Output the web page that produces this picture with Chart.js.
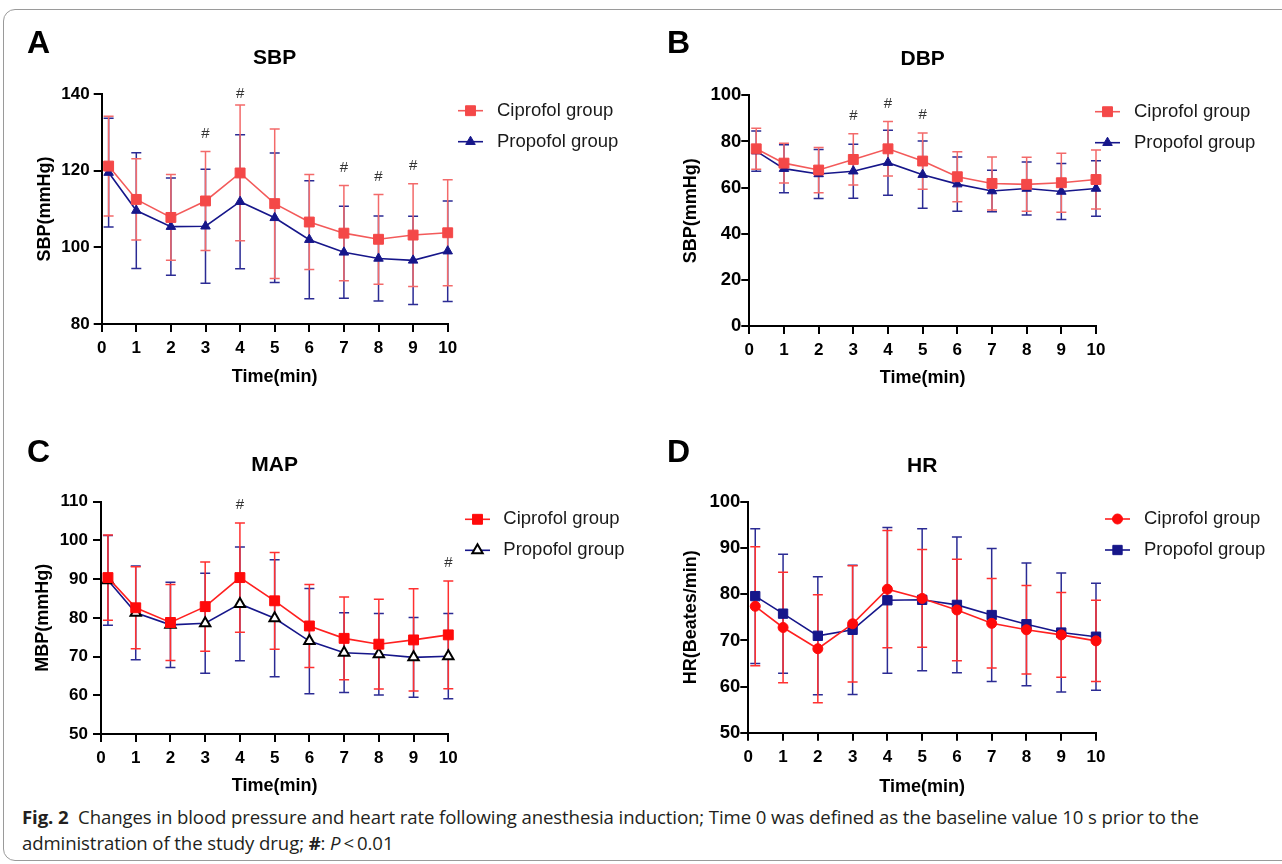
<!DOCTYPE html>
<html>
<head>
<meta charset="utf-8">
<title>Fig. 2 – Blood pressure and heart rate</title>
<script src="https://cdn.jsdelivr.net/npm/chart.js@4.4.1/dist/chart.umd.min.js"></script>
<style>
  body { margin: 0; background: #fff; width: 1282px; height: 864px; overflow: hidden; position: relative;
         font-family: "Liberation Sans", Arial, sans-serif; }
  .frame { position: absolute; left: 3px; top: 9px; width: 1300px; height: 850px;
           border: 1px solid #9a9a9a; border-radius: 12px; }
  canvas { position: absolute; }
  .caption { position: absolute; left: 22px; top: 804px; font-family: "Open Sans", sans-serif; font-size: 18.6px;
             line-height: 26px; color: #231f20; white-space: nowrap; letter-spacing: -0.1px; }
</style>
</head>
<body>
<div class="frame"></div>
<canvas id="chartA" width="640" height="390" style="left:10px;top:15px"></canvas>
<canvas id="chartB" width="627" height="390" style="left:655px;top:15px"></canvas>
<canvas id="chartC" width="640" height="375" style="left:10px;top:425px"></canvas>
<canvas id="chartD" width="627" height="375" style="left:655px;top:425px"></canvas>
<div class="caption"><b>Fig. 2</b>&nbsp; Changes in blood pressure and heart rate following anesthesia induction; Time 0 was defined as the baseline value 10 s prior to the<br>administration of the study drug; <b>#</b>: <i>P</i>&thinsp;&lt;&thinsp;0.01</div>

<script>
// ---- Data (mean and SD) ----
// baseline (time 0) is plotted just right of the y axis, as in the original
const timePoints = [0.2, 1, 2, 3, 4, 5, 6, 7, 8, 9, 10];
const timeTicks = [0, 1, 2, 3, 4, 5, 6, 7, 8, 9, 10];
const groupNames = ["Ciprofol group", "Propofol group"];

// A - SBP
const sbpTicks = [80, 100, 120, 140];
const sbpCiprofolMean = [121.2, 112.5, 107.8, 112.1, 119.4, 111.4, 106.6, 103.7, 102.1, 103.2, 103.8];
const sbpCiprofolSD   = [13.0, 10.6, 11.2, 12.9, 17.7, 19.5, 12.4, 12.4, 11.7, 13.4, 13.8];
const sbpPropofolMean = [119.5, 109.6, 105.4, 105.5, 111.9, 107.7, 102.0, 98.7, 97.1, 96.6, 99.0];
const sbpPropofolSD   = [14.2, 15.1, 12.7, 14.9, 17.5, 16.9, 15.4, 12.0, 11.1, 11.5, 13.1];
const sbpSignificant  = [3, 4, 7, 8, 9];

// B - DBP
const dbpTicks = [0, 20, 40, 60, 80, 100];
const dbpCiprofolMean = [76.8, 70.6, 67.6, 72.2, 76.8, 71.5, 64.7, 61.8, 61.4, 62.1, 63.5];
const dbpCiprofolSD   = [8.9, 8.6, 9.8, 11.1, 11.8, 12.2, 10.8, 11.5, 11.7, 12.8, 12.8];
const dbpPropofolMean = [75.8, 68.2, 65.9, 67.1, 70.8, 65.6, 61.5, 58.5, 59.6, 58.3, 59.6];
const dbpPropofolSD   = [8.7, 10.4, 10.6, 11.7, 14.1, 14.6, 11.8, 9.0, 11.5, 12.1, 12.0];
const dbpSignificant  = [3, 4, 5];

// C - MAP
const mapTicks = [50, 60, 70, 80, 90, 100, 110];
const mapCiprofolMean = [90.4, 82.6, 78.8, 82.9, 90.4, 84.4, 77.9, 74.7, 73.2, 74.3, 75.6];
const mapCiprofolSD   = [11.0, 10.6, 9.8, 11.5, 14.1, 12.5, 10.7, 10.7, 11.6, 13.2, 13.9];
const mapPropofolMean = [89.7, 81.3, 78.2, 78.6, 83.6, 79.9, 74.0, 71.0, 70.6, 69.8, 70.1];
const mapPropofolSD   = [11.6, 12.1, 11.0, 12.9, 14.7, 15.1, 13.6, 10.3, 10.5, 10.3, 11.0];
const mapSignificant  = [4, 10];

// D - HR
const hrTicks = [50, 60, 70, 80, 90, 100];
const hrCiprofolMean = [77.4, 72.8, 68.2, 73.6, 81.1, 79.1, 76.6, 73.7, 72.3, 71.2, 69.9];
const hrCiprofolSD   = [12.9, 12.0, 11.7, 12.6, 12.7, 10.6, 11.0, 9.7, 9.6, 9.2, 8.8];
const hrPropofolMean = [79.6, 75.8, 71.0, 72.3, 78.7, 78.8, 77.7, 75.5, 73.5, 71.7, 70.8];
const hrPropofolSD   = [14.6, 12.9, 12.8, 14.0, 15.8, 15.4, 14.7, 14.4, 13.3, 12.9, 11.6];
const hrSignificant  = [];

// ---- Styles ----
const FONT = "'Liberation Sans', Arial, sans-serif";
const NAVY = "#16168a";
const NAVY_BAR = "#2b2b94";

const ciprofolSoft = { color: "#f44848", line: "#f35a5a", bar: "#f36a6a", pointStyle: "rect", radius: 7, fill: "#f44848" };
const ciprofolRed  = { color: "#ff0a0a", line: "#ff2020", bar: "#ff3030", pointStyle: "rect", radius: 7, fill: "#ff0a0a" };
const ciprofolDot  = { color: "#ff0a0a", line: "#ff2020", bar: "#ff3030", pointStyle: "circle", radius: 5, fill: "#ff0a0a" };
const propofolTri  = { color: NAVY, line: NAVY, bar: NAVY_BAR, pointStyle: "triangle", radius: 5.5, fill: NAVY };
const propofolOpen = { color: "#000", line: NAVY, bar: NAVY_BAR, pointStyle: "triangle", radius: 6, fill: "#fff", border: 2 };
const propofolSq   = { color: NAVY, line: NAVY, bar: NAVY_BAR, pointStyle: "rect", radius: 6.6, fill: NAVY };

// ---- Helpers ----
function makeDataset(label, means, sds, st) {
    return {
        label: label,
        data: timePoints.map((t, i) => ({ x: t, y: means[i] })),
        sd: sds,
        errorColor: st.bar,
        borderColor: st.line,
        backgroundColor: st.fill,
        borderWidth: 1.6,
        tension: 0,
        clip: false,
        pointStyle: st.pointStyle,
        pointRadius: st.radius,
        pointHoverRadius: st.radius,
        pointBackgroundColor: st.fill,
        pointBorderColor: st.color,
        pointBorderWidth: st.border || 1
    };
}

// error bars, letter, title, legend and "#" marks
function decorations(p) {
    return {
        id: "deco" + p.letter,
        beforeDatasetsDraw(chart) {
            const { ctx, scales: { x, y } } = chart;
            ctx.save();
            ctx.lineWidth = 1.5;
            for (let d = chart.data.datasets.length - 1; d >= 0; d--) {
                const ds = chart.data.datasets[d];
                ctx.strokeStyle = ds.errorColor;
                ds.data.forEach((pt, i) => {
                    const px = x.getPixelForValue(pt.x);
                    const hi = y.getPixelForValue(pt.y + ds.sd[i]);
                    const lo = y.getPixelForValue(pt.y - ds.sd[i]);
                    ctx.beginPath();
                    ctx.moveTo(px, hi); ctx.lineTo(px, lo);
                    ctx.moveTo(px - 5, hi); ctx.lineTo(px + 5, hi);
                    ctx.moveTo(px - 5, lo); ctx.lineTo(px + 5, lo);
                    ctx.stroke();
                });
            }
            ctx.restore();
        },
        afterDraw(chart) {
            const { ctx, chartArea, scales: { x, y } } = chart;
            const ox = p.box.left, oy = p.box.top;
            ctx.save();
            ctx.fillStyle = "#000";

            // panel letter
            ctx.font = "bold 32px " + FONT;
            ctx.textAlign = "left";
            ctx.textBaseline = "alphabetic";
            ctx.fillText(p.letter, p.letterPos[0] - ox, p.letterPos[1] - oy);

            // title, centred over the plot
            ctx.font = "bold 21px " + FONT;
            ctx.textAlign = "center";
            ctx.textBaseline = "middle";
            ctx.fillText(p.title, (chartArea.left + chartArea.right) / 2, p.titleY - oy);

            // significance marks
            ctx.font = "15px " + FONT;
            ctx.fillStyle = "#333";
            p.sig.forEach(t => {
                const i = timeTicks.indexOf(t);
                let top = Infinity;
                chart.data.datasets.forEach(ds => {
                    top = Math.min(top, y.getPixelForValue(ds.data[i].y + ds.sd[i]));
                });
                const py = Math.max(top - 18, chartArea.top);
                ctx.fillText("#", x.getPixelForValue(timePoints[i]), py);
            });

            // legend: short line with the marker in the middle
            ctx.font = "18.5px " + FONT;
            ctx.textAlign = "left";
            chart.data.datasets.forEach((ds, i) => {
                const ly = p.legend.y - oy + i * 31;
                const lx = p.legend.x - ox;
                ctx.strokeStyle = ds.borderColor;
                ctx.lineWidth = 1.6;
                ctx.beginPath();
                ctx.moveTo(lx, ly); ctx.lineTo(lx + 25, ly);
                ctx.stroke();
                ctx.fillStyle = ds.pointBackgroundColor;
                ctx.strokeStyle = ds.pointBorderColor;
                ctx.lineWidth = ds.pointBorderWidth;
                Chart.helpers.drawPoint(ctx, {
                    pointStyle: ds.pointStyle, radius: ds.pointRadius,
                    borderWidth: ds.pointBorderWidth, rotation: 0
                }, lx + 12.5, ly);
                ctx.fillStyle = "#1a1a1a";
                ctx.fillText(ds.label, p.legend.tx - ox, ly);
            });
            ctx.restore();
        }
    };
}

function makePanel(p) {
    const b = p.box, g = p.geo;
    const TITLE_HALF = 18 * 1.2 / 2;
    const padLeft = g.yTitleX - TITLE_HALF - b.left;
    const yWidth = g.left - b.left - padLeft;
    const padTop = g.top - b.top;
    const padRight = b.left + b.width - g.right;
    const xHeight = g.xTitleY + TITLE_HALF - g.bottom;
    const padBottom = b.top + b.height - g.xTitleY - TITLE_HALF;

    const tickFont = { family: FONT, size: 17, weight: "bold" };
    const titleFont = { family: FONT, size: 18, weight: "bold", lineHeight: 1.2 };
    const axisGrid = { display: true, drawOnChartArea: false, drawTicks: true, tickLength: 8, color: "#000", lineWidth: 2 };

    new Chart(document.getElementById(p.canvas), {
        type: "line",
        data: { datasets: p.datasets },
        options: {
            responsive: false,
            animation: false,
            events: [],
            layout: { padding: { left: padLeft, top: padTop, right: padRight, bottom: padBottom } },
            plugins: { legend: { display: false }, title: { display: false }, tooltip: { enabled: false } },
            scales: {
                x: {
                    type: "linear",
                    min: timeTicks[0],
                    max: timeTicks[timeTicks.length - 1],
                    ticks: { stepSize: 1, font: tickFont, color: "#000", padding: 6, maxRotation: 0 },
                    grid: axisGrid,
                    border: { display: true, color: "#000", width: 2 },
                    title: { display: true, text: "Time(min)", font: titleFont, color: "#000", padding: 0 },
                    afterFit: s => { s.height = xHeight; }
                },
                y: {
                    type: "linear",
                    min: p.yTicks[0],
                    max: p.yTicks[p.yTicks.length - 1],
                    ticks: { stepSize: p.yTicks[1] - p.yTicks[0], font: { family: FONT, size: p.yTickSize, weight: "bold" },
                             color: "#000", padding: p.yTickPad },
                    grid: axisGrid,
                    border: { display: true, color: "#000", width: 2 },
                    title: { display: true, text: p.yTitle, font: titleFont, color: "#000", padding: 0 },
                    afterFit: s => { s.width = yWidth; }
                }
            }
        },
        plugins: [decorations(p)]
    });
}

// ---- Panels ----
makePanel({
    canvas: "chartA", letter: "A", title: "SBP", yTitle: "SBP(mmHg)", yTicks: sbpTicks, sig: sbpSignificant,
    yTickSize: 17, yTickPad: 4,
    box: { left: 10, top: 15, width: 640, height: 390 },
    geo: { left: 101.7, right: 447.7, top: 94, bottom: 324, yTitleX: 45, xTitleY: 376.7 },
    letterPos: [27, 53], titleY: 58,
    legend: { x: 458, tx: 497, y: 110.7 },
    datasets: [
        makeDataset(groupNames[0], sbpCiprofolMean, sbpCiprofolSD, ciprofolSoft),
        makeDataset(groupNames[1], sbpPropofolMean, sbpPropofolSD, propofolTri)
    ]
});

makePanel({
    canvas: "chartB", letter: "B", title: "DBP", yTitle: "SBP(mmHg)", yTicks: dbpTicks, sig: dbpSignificant,
    yTickSize: 18.5, yTickPad: 0,
    box: { left: 655, top: 15, width: 627, height: 390 },
    geo: { left: 749.3, right: 1096, top: 95.3, bottom: 326, yTitleX: 690.7, xTitleY: 378.3 },
    letterPos: [667, 53], titleY: 59,
    legend: { x: 1095, tx: 1134, y: 111.7 },
    datasets: [
        makeDataset(groupNames[0], dbpCiprofolMean, dbpCiprofolSD, ciprofolSoft),
        makeDataset(groupNames[1], dbpPropofolMean, dbpPropofolSD, propofolTri)
    ]
});

makePanel({
    canvas: "chartC", letter: "C", title: "MAP", yTitle: "MBP(mmHg)", yTicks: mapTicks, sig: mapSignificant,
    yTickSize: 17, yTickPad: 5,
    box: { left: 10, top: 425, width: 640, height: 375 },
    geo: { left: 101, right: 448.3, top: 501.7, bottom: 734, yTitleX: 43.3, xTitleY: 786 },
    letterPos: [27, 462], titleY: 465,
    legend: { x: 465, tx: 503.3, y: 519.3 },
    datasets: [
        makeDataset(groupNames[0], mapCiprofolMean, mapCiprofolSD, ciprofolRed),
        makeDataset(groupNames[1], mapPropofolMean, mapPropofolSD, propofolOpen)
    ]
});

makePanel({
    canvas: "chartD", letter: "D", title: "HR", yTitle: "HR(Beates/min)", yTicks: hrTicks, sig: hrSignificant,
    yTickSize: 18.5, yTickPad: 0,
    box: { left: 655, top: 425, width: 627, height: 375 },
    geo: { left: 748.3, right: 1096, top: 502, bottom: 732.7, yTitleX: 690.7, xTitleY: 786.7 },
    letterPos: [667, 462], titleY: 466,
    legend: { x: 1105, tx: 1144, y: 519 },
    datasets: [
        makeDataset(groupNames[0], hrCiprofolMean, hrCiprofolSD, ciprofolDot),
        makeDataset(groupNames[1], hrPropofolMean, hrPropofolSD, propofolSq)
    ]
});
</script>
</body>
</html>
